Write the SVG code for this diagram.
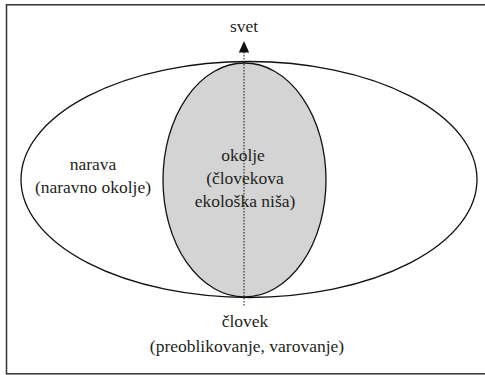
<svg xmlns="http://www.w3.org/2000/svg" width="485" height="375" viewBox="0 0 485 375">
  <style>
    .lbl { font-size: 17.5px; fill: #231f20; text-anchor: middle; }
    .frame { fill: none; stroke: #333; stroke-width: 1.5; }
    .outer { fill: #fff; stroke: #111; stroke-width: 1.3; }
    .inner { fill: #d4d4d4; stroke: #111; stroke-width: 1.3; }
    .axis { stroke: #111; stroke-width: 1; stroke-dasharray: 1.5 1.5; fill: none; }
  </style>
  <rect class="frame" x="6.5" y="4.8" width="490" height="369"/>
  <g font-family="'Liberation Serif', 'Times New Roman', 'DejaVu Serif', serif">
    <g id="narava">
      <ellipse class="outer" cx="249" cy="179.5" rx="228" ry="118"/>
      <text class="lbl" x="93" y="170">narava</text>
      <text class="lbl" x="93" y="193">(naravno okolje)</text>
    </g>
    <g id="okolje">
      <ellipse class="inner" cx="244.5" cy="180" rx="81.5" ry="117"/>
      <text class="lbl" x="243" y="161">okolje</text>
      <text class="lbl" x="245" y="184">(človekova</text>
      <text class="lbl" x="245" y="207">ekološka niša)</text>
    </g>
    <g id="connectors">
      <line class="axis" x1="244" y1="52" x2="244" y2="306"/>
      <path d="M244,41 L238.8,52.5 L249.2,52.5 Z" fill="#111"/>
    </g>
    <g id="svet">
      <text class="lbl" x="244" y="32">svet</text>
    </g>
    <g id="clovek">
      <text class="lbl" x="245" y="327">človek</text>
      <text class="lbl" x="247" y="352">(preoblikovanje, varovanje)</text>
    </g>
  </g>
</svg>
